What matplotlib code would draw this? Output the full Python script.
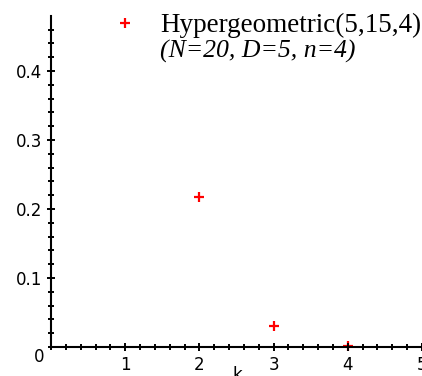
import matplotlib
matplotlib.use("Agg")
import matplotlib.pyplot as plt
from matplotlib.ticker import MultipleLocator

k_values = [1, 2, 3, 4]
pmf_values = [0.4696, 0.2167, 0.0310, 0.0010]
x_ticks = [1, 2, 3, 4, 5]
x_tick_labels = ["1", "2", "3", "4", "5"]
y_ticks = [0.1, 0.2, 0.3, 0.4]
y_tick_labels = ["0.1", "0.2", "0.3", "0.4"]
title_line1 = "Hypergeometric(5,15,4)"
title_line2 = "(N=20, D=5, n=4)"

W, H = 422, 376
fig = plt.figure(figsize=(W / 100, H / 100), dpi=100)
ax = fig.add_axes([51 / W, (H - 347) / H, 1 - 51 / W, (347 - 16) / H])
ax.set_xlim(0, 371 / 74.7)
ax.set_ylim(0, 331 / 690)

ax.plot(k_values, pmf_values, linestyle="none", marker="+", color="#ff0000",
        markersize=7, markeredgewidth=1.6, zorder=1, clip_on=False)

for s in ["top", "right"]:
    ax.spines[s].set_visible(False)
for s in ["left", "bottom"]:
    ax.spines[s].set_linewidth(1.5)
    ax.spines[s].set_zorder(3)

ax.set_xticks(x_ticks)
ax.set_xticklabels(x_tick_labels)
ax.set_yticks(y_ticks)
ax.set_yticklabels(y_tick_labels)
ax.xaxis.set_minor_locator(MultipleLocator(0.2))
ax.yaxis.set_minor_locator(MultipleLocator(0.02))
ax.tick_params(which="major", direction="inout", length=6, width=1.4, labelsize=12, pad=3.5)
ax.tick_params(which="minor", direction="inout", length=4.5, width=1.4)
for lab in ax.get_xticklabels() + ax.get_yticklabels():
    lab.set_family("DejaVu Sans")
    lab.set_clip_on(False)

fig.text(39 / W, 1 - 357 / H, "0", ha="center", va="center", fontsize=12, family="DejaVu Sans")
fig.text(237 / W, 1 - 366 / H, "k", ha="center", va="top", fontsize=12, family="DejaVu Sans")

fig.text(160 / W, 1 - 32 / H, title_line1, ha="left", va="baseline",
         fontsize=19.5, family="Liberation Serif")
fig.text(160 / W, 1 - 58 / H, title_line2, ha="left", va="baseline",
         fontsize=18.5, family="Liberation Serif", style="italic")

fig.savefig("out.png", dpi=100)
